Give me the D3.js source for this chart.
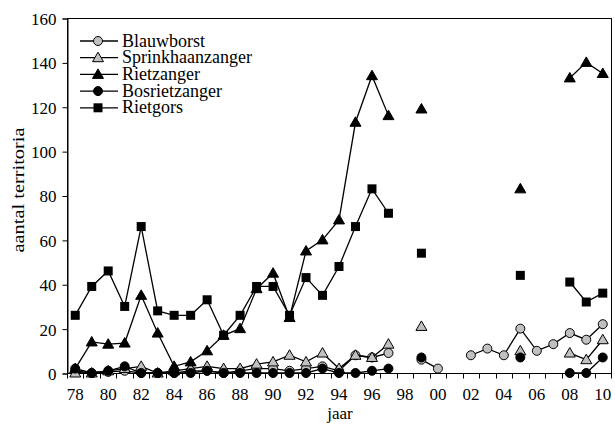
<!DOCTYPE html>
<html>
<head>
<meta charset="utf-8">
<script src="https://cdn.jsdelivr.net/npm/d3@7"></script>
<style>
  body { margin: 0; background: #fff; }
  text { font-family: "Liberation Serif", "Times New Roman", serif; fill: #000; }
</style>
</head>
<body>
<div id="chart"></div>
<script>
// years 1978 - 2010, null = not counted
var years = d3.range(1978, 2011);
var yTicks = [0, 20, 40, 60, 80, 100, 120, 140, 160];

var blauwborst = [1,0,0.5,1,0,0,0,1,1,0, 1,2,2,1,2,3,1,8,7,9, null,6,2,null,8,11,8,20,10,13, 18,15,22];
var sprinkhaanzanger = [0,0,1,2,3,0,1,2,3,2, 2,4,5,8,5,9,2,8,7,13, null,21,null,null,null,null,null,10,null,null, 9,6,15];
var rietzanger = [2,14,13,13.5,35,18,3,5,10,17, 20,38,45,25,55,60,69,113,134,116, null,119,null,null,null,null,null,83,null,null, 133,140,135];
var bosrietzanger = [2,0,1,3,0,0,0,0,1,0, 0,0,0,0,0,2,0,0,1,2, null,7,null,null,null,null,null,7,null,null, 0,0,7];
var rietgors = [26,39,46,30,66,28,26,26,33,17, 26,39,39,26,43,35,48,66,83,72, null,54,null,null,null,null,null,44,null,null, 41,32,36];

var series = [
  {name: 'Blauwborst', values: blauwborst, shape: 'circle', fill: '#c0c0c0'},
  {name: 'Sprinkhaanzanger', values: sprinkhaanzanger, shape: 'triangle', fill: '#c0c0c0'},
  {name: 'Rietzanger', values: rietzanger, shape: 'triangle', fill: '#000'},
  {name: 'Bosrietzanger', values: bosrietzanger, shape: 'circle', fill: '#000'},
  {name: 'Rietgors', values: rietgors, shape: 'square', fill: '#000'}
];

var w = 615, h = 430;
var pLeft = 67, pTop = 18, pRight = 611, pBottom = 373;

var svg = d3.select('#chart').append('svg')
  .attr('width', w)
  .attr('height', h);

var x = d3.scaleBand().domain(years).range([pLeft, pRight]);
var y = d3.scaleLinear().domain([0, 160]).range([pBottom, pTop]);

// frame
svg.append('rect')
  .attr('x', pLeft + 0.5).attr('y', pTop + 0.5)
  .attr('width', pRight - pLeft).attr('height', pBottom - pTop)
  .attr('fill', 'none').attr('stroke', '#000').attr('stroke-width', 1);

// y axis
var yAxis = svg.append('g')
  .attr('transform', 'translate(' + (pLeft + 0.5) + ',0.5)')
  .call(d3.axisLeft(y).tickValues(yTicks).tickSize(5).tickPadding(6));
yAxis.select('.domain').attr('stroke', '#000');
yAxis.selectAll('text').style('font-size', '17px').attr('font-family', null)
  .attr('dy', '0.35em');

// x axis: ticks between categories, labels every second year
var xAxis = svg.append('g')
  .attr('transform', 'translate(0,' + (pBottom + 0.5) + ')');
xAxis.append('line')
  .attr('x1', pLeft).attr('x2', pRight + 1)
  .attr('stroke', '#000');
xAxis.selectAll('line.tick')
  .data(years.concat([2011]))
  .enter().append('line')
  .attr('class', 'tick')
  .attr('x1', function(d) { return d === 2011 ? pRight + 0.5 : Math.round(x(d)) + 0.5; })
  .attr('x2', function(d) { return d === 2011 ? pRight + 0.5 : Math.round(x(d)) + 0.5; })
  .attr('y1', 0).attr('y2', 5)
  .attr('stroke', '#000');
xAxis.selectAll('text')
  .data(years.filter(function(d) { return d % 2 === 0; }))
  .enter().append('text')
  .attr('x', function(d) { return x(d) + x.bandwidth() / 2; })
  .attr('y', 26)
  .attr('text-anchor', 'middle')
  .style('font-size', '17px')
  .text(function(d) { return String(d % 100).padStart(2, '0'); });

// axis titles
svg.append('text')
  .attr('x', (pLeft + pRight) / 2 + 1).attr('y', 419)
  .attr('text-anchor', 'middle')
  .style('font-size', '17px')
  .text('jaar');
svg.append('text')
  .attr('transform', 'translate(24,190) rotate(-90) scale(1.2,1)')
  .attr('text-anchor', 'middle')
  .style('font-size', '17px')
  .text('aantal territoria');

var cx = function(i) { return x(years[i]) + x.bandwidth() / 2; };

var line = d3.line()
  .defined(function(d) { return d !== null; })
  .x(function(d, i) { return cx(i); })
  .y(function(d) { return y(d); });

function drawMarker(g, shape, fill, px, py) {
  if (shape === 'circle') {
    g.append('circle').attr('cx', px).attr('cy', py).attr('r', 4.5)
      .attr('fill', fill).attr('stroke', '#000').attr('stroke-width', 1);
  } else if (shape === 'square') {
    g.append('rect').attr('x', px - 4.5).attr('y', py - 4.5)
      .attr('width', 9).attr('height', 9).attr('fill', fill);
  } else {
    g.append('path')
      .attr('d', 'M' + px + ',' + (py - 5.5) + 'L' + (px + 5.5) + ',' + (py + 4) + 'L' + (px - 5.5) + ',' + (py + 4) + 'Z')
      .attr('fill', fill).attr('stroke', '#000').attr('stroke-width', 1);
  }
}

series.forEach(function(s) {
  var g = svg.append('g');
  g.append('path')
    .datum(s.values)
    .attr('d', line)
    .attr('fill', 'none')
    .attr('stroke', '#000')
    .attr('stroke-width', 1.3);
  s.values.forEach(function(v, i) {
    if (v === null) return;
    drawMarker(g, s.shape, s.fill, cx(i), y(v));
  });
});

// legend
var legend = svg.append('g');
series.forEach(function(s, i) {
  var ly = 41 + i * 16.7;
  legend.append('line')
    .attr('x1', 80).attr('x2', 118).attr('y1', ly).attr('y2', ly)
    .attr('stroke', '#000').attr('stroke-width', 1.3);
  drawMarker(legend, s.shape, s.fill, 98, ly);
  legend.append('text')
    .attr('x', 122).attr('y', ly + 5.5)
    .style('font-size', '18px')
    .text(s.name);
});
</script>
</body>
</html>
